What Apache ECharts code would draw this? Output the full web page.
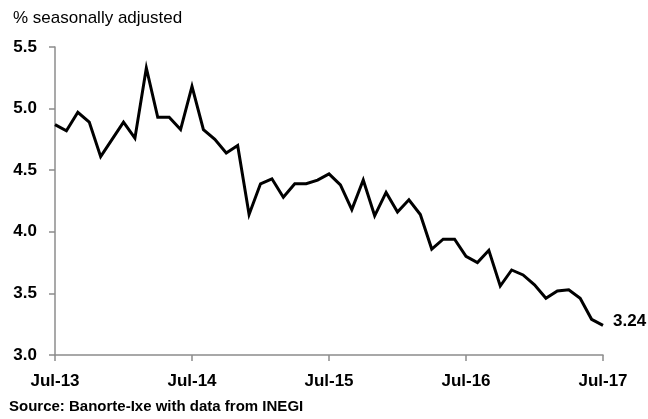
<!DOCTYPE html>
<html>
<head>
<meta charset="utf-8">
<script src="https://cdn.jsdelivr.net/npm/echarts@6/dist/echarts.min.js"></script>
<style>html,body{margin:0;padding:0;background:#fff}#c{width:648px;height:419px}</style>
</head>
<body>
<div id="c"></div>
<script>
var months = ['Jul-13','Aug-13','Sep-13','Oct-13','Nov-13','Dec-13','Jan-14','Feb-14','Mar-14','Apr-14','May-14','Jun-14',
  'Jul-14','Aug-14','Sep-14','Oct-14','Nov-14','Dec-14','Jan-15','Feb-15','Mar-15','Apr-15','May-15','Jun-15',
  'Jul-15','Aug-15','Sep-15','Oct-15','Nov-15','Dec-15','Jan-16','Feb-16','Mar-16','Apr-16','May-16','Jun-16',
  'Jul-16','Aug-16','Sep-16','Oct-16','Nov-16','Dec-16','Jan-17','Feb-17','Mar-17','Apr-17','May-17','Jun-17',
  'Jul-17'];
var rate = [4.87,4.82,4.97,4.89,4.61,4.75,4.89,4.76,5.33,4.93,4.93,4.83,
  5.18,4.83,4.75,4.64,4.70,4.14,4.39,4.43,4.28,4.39,4.39,4.42,
  4.47,4.38,4.18,4.42,4.13,4.32,4.16,4.26,4.14,3.86,3.94,3.94,
  3.80,3.75,3.85,3.56,3.69,3.65,3.57,3.46,3.52,3.53,3.46,3.29,
  3.24];
var yTicks = [3.0, 3.5, 4.0, 4.5, 5.0, 5.5];
var unitText = '% seasonally adjusted';
var sourceText = 'Source: Banorte-Ixe with data from INEGI';

var chart = echarts.init(document.getElementById('c'), null, {renderer: 'canvas'});
var font = 'Arial, "Liberation Sans", sans-serif';
var axisColor = '#8c8c8c';
chart.setOption({
  animation: false,
  backgroundColor: '#fff',
  title: {
    text: unitText, left: 8, top: 5,
    textStyle: {fontFamily: font, fontSize: 17, fontWeight: 'normal', color: '#000'}
  },
  graphic: [{
    type: 'text', left: 9, top: 399,
    style: {text: sourceText, fontFamily: font, fontSize: 15, fontWeight: 'bold', fill: '#000'}
  }],
  grid: {left: 55, right: 45, top: 47, bottom: 64, containLabel: false},
  xAxis: {
    type: 'category', data: months, boundaryGap: false,
    axisLine: {lineStyle: {color: axisColor, width: 1.5}},
    axisTick: {interval: 11, length: 6, lineStyle: {color: axisColor, width: 1.5}},
    axisLabel: {interval: 11, margin: 18, fontFamily: font, fontSize: 17, fontWeight: 'bold', color: '#000'},
    splitLine: {show: false}
  },
  yAxis: {
    type: 'value', min: yTicks[0], max: yTicks[yTicks.length-1], interval: 0.5,
    axisLine: {show: true, lineStyle: {color: axisColor, width: 1.5}},
    axisTick: {show: true, length: 6, lineStyle: {color: axisColor, width: 1.5}},
    axisLabel: {margin: 18, fontFamily: font, fontSize: 17, fontWeight: 'bold', color: '#000',
      formatter: function(v){ return v.toFixed(1); }},
    splitLine: {show: false}
  },
  series: [{
    type: 'line', data: rate, symbol: 'none',
    lineStyle: {color: '#000', width: 3, join: 'miter'},
    endLabel: {show: true, formatter: function(p){ return p.value.toFixed(2); },
      distance: 10, offset: [0, -4], fontFamily: font, fontSize: 17, fontWeight: 'bold', color: '#000'}
  }]
});
</script>
</body>
</html>
